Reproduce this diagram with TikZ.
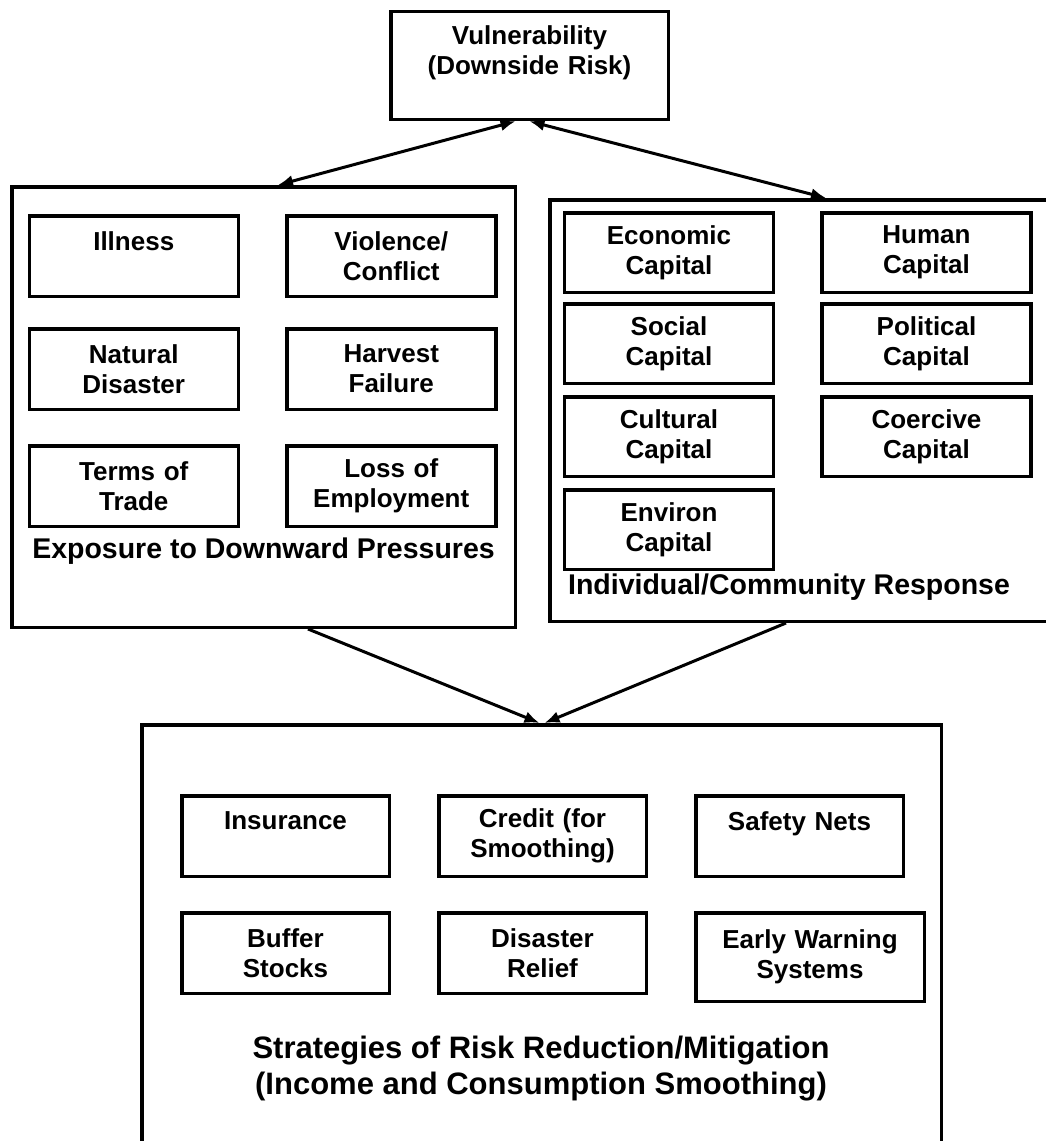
\documentclass[tikz,border=0pt]{standalone}
\usepackage{fontspec}
\setmainfont{Liberation Sans}
\usetikzlibrary{arrows.meta,positioning}
\tikzset{
    %Define standard arrow tip
    >={Latex[length=15pt,width=12pt]},
    %Define style for the big frames
    frame/.style={
           rectangle,
           draw=black,
           line width=3.5pt,
           anchor=north west,
           inner sep=0pt},
    %Define style for the small boxes
    cell/.style={
           rectangle,
           draw=black,
           line width=3.5pt,
           minimum width=209pt,
           minimum height=80.5pt,
           text width=205pt,
           align=center,
           inner sep=0pt,
           font=\fontsize{26}{30}\selectfont\bfseries},
    % Define style for frame captions
    framelabel/.style={
           anchor=base,
           inner sep=0pt,
           font=\fontsize{28.5}{34}\selectfont\bfseries},
    % Define arrow style
    pil/.style={
           line width=3pt}
}

\begin{document}
\begin{tikzpicture}[x=1pt,y=-1pt]
  \useasboundingbox (0,0) rectangle (1045,1141);
  % top box
  \node[cell, minimum width=277.5pt, minimum height=108pt] (vuln) at (529.5,65.5)
    {Vulnerability\\(Downside Risk)\\~};
  % frames
  \node[frame, minimum width=503.5pt, minimum height=440.5pt] (expo) at (10,185) {};
  \node[frame, minimum width=526.5pt, minimum height=421.5pt] (resp) at (548,198) {};
  \node[frame, minimum width=799.5pt, minimum height=443.5pt] (strat) at (140,723) {};
  % exposure
  \node[cell] (illness) at (133.75,256) {Illness\\~};
  \node[cell,right=45pt of illness] (violence) {Violence/\\Conflict};
  \node[cell,below=29pt of illness] (natural) {Natural\\Disaster};
  \node[cell,right=45pt of natural] (harvest) {Harvest\\Failure};
  \node[cell,below=33pt of natural] (trade) {Terms of\\Trade};
  \node[cell,right=45pt of trade] (employment) {Loss of\\Employment};
  \node[framelabel] (expolabel) at (263.5,558) {Exposure to Downward Pressures};
  % response
  \node[cell, minimum height=79.5pt] (economic) at (669,252.5) {Economic\\Capital};
  \node[cell, minimum height=79.5pt, right=45pt of economic] (human) {Human\\Capital};
  \node[cell, minimum height=79.5pt, below=8pt of economic] (social) {Social\\Capital};
  \node[cell, minimum height=79.5pt, below=8pt of human] (political) {Political\\Capital};
  \node[cell, minimum height=79.5pt, below=10pt of social] (cultural) {Cultural\\Capital};
  \node[cell, minimum height=79.5pt, below=10pt of political] (coercive) {Coercive\\Capital};
  \node[cell, minimum height=79.5pt, below=10pt of cultural] (environ) {Environ\\Capital};
  \node[framelabel] (resplabel) at (789,594) {Individual/Community Response};
  % strategies
  \node[cell, minimum width=207.5pt] (insurance) at (285.5,836) {Insurance\\~};
  \node[cell, minimum width=207.5pt, right=46pt of insurance] (credit) {Credit (for\\Smoothing)};
  \node[cell, minimum width=207.5pt, right=46pt of credit] (safety) {Safety Nets\\~};
  \node[cell, minimum width=207.5pt, below=33pt of insurance] (buffer) {Buffer\\Stocks};
  \node[cell, minimum width=207.5pt, right=46pt of buffer] (relief) {Disaster\\Relief};
  \node[cell, minimum width=228.5pt, minimum height=88.5pt, below=33pt of safety.south west,
    anchor=north west] (warning) {Early Warning\\Systems};
  \node[framelabel, anchor=center, align=center, font=\fontsize{31}{36}\selectfont\bfseries]
    (stratlabel) at (541,1069) {Strategies of Risk Reduction/Mitigation\\(Income and Consumption Smoothing)};
  % arrows
  \draw[pil,<->] ([xshift=-14pt]vuln.south) -- ([xshift=14.5pt]expo.north);
  \draw[pil,<->] (vuln.south) -- ([xshift=13pt]resp.north);
  \draw[pil,->] ([xshift=44.5pt]expo.south) -- ([xshift=-2pt]strat.north);
  \draw[pil,->] ([xshift=-27pt]resp.south) -- ([xshift=3pt]strat.north);
\end{tikzpicture}
\end{document}
